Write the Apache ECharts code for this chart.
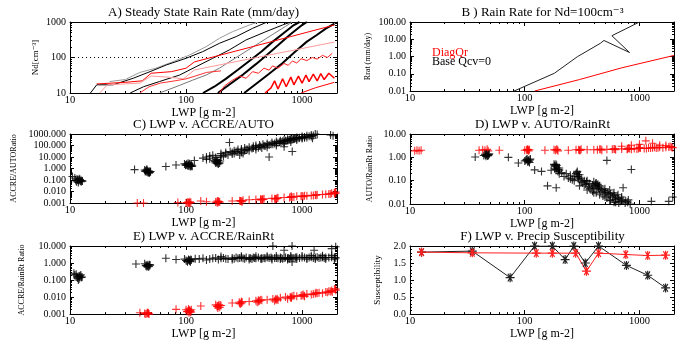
<!DOCTYPE html>
<html><head><meta charset="utf-8">
<script src="https://cdn.jsdelivr.net/npm/echarts@6/dist/echarts.min.js"></script>
<style>html,body{margin:0;padding:0;background:#fff}#c{width:677px;height:341px}</style>
</head><body><div id="c"></div>
<script>
// ---------- Panel A: contour lines [LWP, Nd] ----------
const aGray1  = [[22,21],[30,24],[40,38],[55,50],[77,76],[107,117],[149,202],[194,347],[252,535],[351,822],[420,1000]];
const aBlack2 = [[15,10],[17,17],[23.5,17],[35,26],[49,40],[68,62],[100,95],[139,146],[194,251],[270,387],[375,663],[500,1000]];
const aBlack3 = [[33,10],[43,15],[59,21],[88,32],[122,55],[170,95],[236,163],[328,311],[488,535],[678,822],[800,1000]];
const aGray4  = [[59,10],[82,15],[114,23],[149,32],[194,50],[250,85],[330,150],[430,260],[560,450],[720,750],[820,1000]];
const aBlack5 = [[140,10],[175,15],[220,25],[280,45],[360,85],[450,150],[560,280],[700,500],[850,820],[950,1000]];
const aBlack6 = [[188,10],[240,18],[310,33],[400,65],[500,120],[620,220],[800,460],[1000,820],[1100,1000]];
const aBlack7 = [[317,10],[400,18],[520,35],[680,70],[880,150],[1100,280],[1340,430],[1600,650],[1900,900]];
const aRed1   = [[17,18],[30,20],[42,22],[50,36],[75,40],[100,50],[118,75],[200,118],[400,214],[800,389],[1900,822]];
const aPink2  = [[18,10],[21,17],[40,19],[50,30],[70,28],[95,25],[118,44.5],[200,63],[400,99],[800,155],[1900,272]];
const aRed3   = [[194,10],[215,16],[252,23],[290,30],[330,26],[375,40],[420,36],[470,50],[520,44],[556,58],[620,50],[700,68],[760,60],[826,80],[900,70],[980,92],[1100,82],[1226,100],[1350,90],[1500,115],[1650,100],[1820,131]];
const aRed4   = [[480,10],[540,14],[580,22],[620,13],[680,25],[730,15],[800,28],[850,17],[930,30],[1000,19],[1080,32],[1150,21],[1250,34],[1350,22],[1450,35],[1550,24],[1700,36],[1900,26]];
const aRed5   = [[980,10],[1300,14],[1900,20]];
const aRed6   = [[40,10],[48,15],[60,19],[80,22],[100,25],[120,30],[150,38],[200,42]];
const aRef    = [[10,100],[2000,100]];

// ---------- Panel B: rain rate at Nd=100 [LWP, mm/day] ----------
const bBase = [[75,0.008],[181,0.106],[288,0.98],[456,5.8],[490,8.5],[820,1.7],[575,16],[1000,100]];
const bDiag = [[122,0.01],[300,0.046],[700,0.22],[2000,1.15]];

// ---------- Panel C: ACCRE/AUTO [LWP, ratio] ----------
const cBase = [[10.5,0.2],[11,0.15],[11.2,0.09],[11.5,0.12],[11.8,0.06],[12,0.1],[12,0.13],[12.3,0.08],[12.5,0.07],
  [11.4,0.07],[11.9,0.09],[12.2,0.11],[12.6,0.09],[12.8,0.08],[11.6,0.1],
  [36,0.8],[44,0.75],[45,0.6],[46,0.5],[46,0.85],[47,0.45],[48,0.6],[48,0.4],[49,0.5],
  [44.5,0.55],[45.5,0.7],[46.5,0.65],[47.5,0.5],[48.5,0.45],[49.5,0.55],
  [67,1.5],[82,2.0],[97,2.5],[100,2.0],[103,1.8],[104,2.8],[106,2.2],[108,1.6],[110,1.5],[112,1.7],[118,5],
  [99,1.9],[101,2.4],[105,1.7],[107,2.6],[109,1.9],[111,2.1],[113,1.6],
  [140,8],[150,10],[160,12],[170,14],[175,5],[180,3],[182,6],[185,4],[190,2.5],[195,3],[200,20],[220,25],[240,30],[260,35],[280,45],
  [178,4],[183,3.5],[188,5],[192,3],[197,4.5],[186,2.8],
  [300,50],[320,60],[350,70],[380,85],[400,100],[430,110],[460,130],[500,150],[550,180],[600,220],[650,260],[700,300],[750,350],
  [800,400],[850,450],[900,500],[1000,600],[1100,700],[1200,800],[1300,1000],
  [150,6],[200,10],[250,18],[290,15],[300,25],[310,20],[350,35],[400,45],[450,60],[500,70],[600,100],[700,150],[800,200],[900,300],[1000,400],[1100,500],
  [160,7],[180,9],[210,12],[230,15],[260,20],[280,28],[320,35],[340,45],[370,55],[420,65],[440,80],[480,90],[520,110],[560,130],[580,150],
  [620,170],[660,200],[680,230],[720,260],[760,280],[780,320],[820,340],[860,380],[880,420],[950,480],[1050,550],[1150,650],[1250,750],[1350,900],
  [1200,600],[1000,500],[900,400],[800,300],[700,200],[600,150],[500,110],[400,70],[300,35],[250,25],[200,14],[220,18],[270,30],[330,45],
  [380,60],[470,95],[540,130],[640,190],[740,250],[840,350],[940,420],[1050,480],
  [237,180],[520,10],[823,30],[700,77],[1230,430],[1760,820],[1850,700]];
const cDiag = [[38,0.001],[43,0.001],[85,0.0011],[100,0.001],[104,0.0012],[107,0.001],[110,0.0011],[134,0.0015],[150,0.0013],[180,0.0012],[185,0.0011],[190,0.0014],[195,0.0012],
  [250,0.0015],[290,0.0016],[300,0.0014],[310,0.0017],[350,0.0019],[400,0.002],[440,0.0022],[450,0.0019],[470,0.0023],[550,0.0025],[600,0.0024],[620,0.0028],
  [700,0.003],[800,0.0035],[850,0.0033],[900,0.0038],[1000,0.004],[1100,0.0042],[1200,0.0046],[1300,0.005],[1500,0.0055],[1700,0.006],[1900,0.0065],[1950,0.009],
  [102,0.0011],[105,0.001],[108,0.0013],[188,0.0011],[192,0.0013],[186,0.0015],[295,0.0015],[305,0.0013],[440,0.0018],[455,0.0021],[460,0.002],
  [580,0.0024],[610,0.0026],[590,0.0022],[780,0.003],[820,0.0032],[810,0.0036],[980,0.0038],[1020,0.0036],[1050,0.0042],[1250,0.0045],[1320,0.0048],
  [1350,0.0052],[1600,0.0058],[1750,0.0062],[1800,0.007],[1950,0.007],[1900,0.008]];

// ---------- Panel D: AUTO/RainRt [LWP, ratio] ----------
const dBase = [[37,1.03],[44,1.2],[45,1.35],[46,1.1],[47,1.3],[48,1.2],[49,1.4],[72,1.0],[88,0.57],[100,0.7],[104,0.8],[106,0.65],[108,0.75],[110,0.6],[112,0.85],
  [45.5,1.25],[46.5,1.35],[47.5,1.15],[48.5,1.3],[102,0.75],[105,0.85],[107,0.7],[109,0.65],[111,0.78],
  [122,0.29],[140,0.25],[158,0.06],[170,0.28],[180,0.5],[185,0.4],[188,0.3],[190,0.45],[195,0.25],[200,0.35],[188,0.05],[200,0.2],[220,0.15],[240,0.13],[260,0.11],
  [182,0.45],[187,0.5],[192,0.35],[197,0.3],[183,0.32],
  [280,0.2],[287,0.25],[290,0.15],[295,0.12],[300,0.18],[320,0.08],[340,0.07],[360,0.055],[380,0.05],[400,0.045],[420,0.08],[427,0.065],[440,0.05],[460,0.035],
  [500,0.03],[540,0.025],[580,0.02],[620,0.016],[680,0.013],[750,0.011],[830,0.01],
  [300,0.06],[350,0.04],[400,0.03],[450,0.025],[500,0.02],[550,0.015],[600,0.012],
  [350,0.1],[400,0.09],[450,0.06],[500,0.045],[550,0.04],[600,0.03],[650,0.025],[700,0.02],[800,0.015],
  [200,0.28],[210,0.22],[230,0.2],[250,0.17],[270,0.15],[285,0.22],[292,0.18],[298,0.14],[310,0.12],[330,0.1],[345,0.09],[365,0.075],[390,0.065],
  [410,0.06],[430,0.055],[415,0.075],[435,0.07],[445,0.045],[470,0.042],[490,0.038],[510,0.033],[530,0.03],[560,0.027],[590,0.024],[610,0.022],
  [640,0.019],[660,0.017],[700,0.016],[720,0.014],[760,0.013],[790,0.012],[250,0.12],[270,0.1],[310,0.09],[330,0.065],[370,0.045],[390,0.035],
  [420,0.03],[480,0.022],[520,0.018],[560,0.014],[620,0.012],[660,0.011],
  [520,0.74],[850,0.3],[720,0.05],[1270,0.013],[1800,0.013],[1950,0.02]];
const dDiag = [[11,1.9],[11.5,2],[12,1.9],[12.5,2],[40,2],[43,2.1],[45,2.0],[47,2.2],[48,1.9],[60,2],[100,2],[104,2.1],[106,2.2],[108,1.9],[110,2.1],
  [150,2.0],[180,2.1],[190,2.2],[195,1.9],[240,2.0],[280,2.1],[300,2.0],[310,2.2],[350,2.1],[400,2.1],[450,2.2],[470,2.0],[520,2.2],[600,2.3],[620,2.1],
  [700,2.3],[780,2.2],[800,2.5],[850,2.2],[900,2.4],[950,2.3],[1000,2.6],[1100,2.4],[1200,2.5],[1300,2.6],[1400,2.5],[1500,2.7],[1600,2.6],[1800,2.8],[1900,2.7],
  [105,2.0],[107,2.1],[185,2.0],[192,2.1],[295,2.1],[305,2.0],[430,2.1],[460,2.2],[580,2.2],[610,2.3],[790,2.3],[820,2.4],[980,2.4],[1020,2.5],
  [1250,2.5],[1350,2.7],[1700,2.7],[1850,2.9],[1950,2.6],[1450,2.6],[1150,2.4],
  [700,3.0],[850,3.3],[1000,3.6],[1136,5.1],[1300,4.0],[1500,3.3],[1700,3.2]];

// ---------- Panel E: ACCRE/RainRt [LWP, ratio] ----------
const eBase = [[10.8,0.25],[11,0.2],[11.3,0.22],[11.5,0.15],[11.8,0.1],[12,0.12],[12.2,0.18],[12.5,0.14],
  [11.6,0.13],[12.1,0.16],[12.4,0.2],[12.7,0.15],[11.9,0.17],
  [37,0.87],[44,0.9],[45,0.7],[46,0.6],[47,0.8],[48,0.65],[49,0.75],[45.5,0.75],[46.5,0.7],[47.5,0.6],[48.5,0.8],
  [67,1.9],[82,1.6],[97,1.7],[100,1.4],[103,1.2],[106,1.5],[108,1.3],[110,1.6],[102,1.3],[105,1.6],[107,1.4],[109,1.2],[111,1.5],
  [120,1.8],[140,1.9],[160,1.7],[180,2.0],[190,1.6],[200,1.9],[220,1.8],[250,2.0],[280,1.9],[300,2.1],[320,1.8],[350,2.0],[380,2.1],[400,1.9],
  [450,2.0],[500,2.1],[550,1.9],[600,2.0],[650,2.1],[700,2.0],[750,1.9],[800,2.1],[850,2.0],[900,2.2],[1000,2.1],[1100,2.0],[1200,2.2],[1300,2.1],
  [1400,2.0],[1500,2.2],[1600,2.1],[1800,2.2],[1950,2.0],
  [130,1.7],[170,1.9],[210,2.0],[230,1.7],[260,1.8],[270,2.1],[290,2.0],[310,1.9],[330,2.1],[360,1.9],[370,1.7],[390,2.0],[420,2.1],[440,1.8],
  [470,2.0],[480,1.9],[520,2.0],[540,2.1],[580,2.0],[620,1.9],[660,2.0],[680,1.8],[720,2.1],[760,2.0],[780,1.8],[820,2.0],[880,2.1],[950,2.0],
  [1050,2.1],[1150,2.1],[1250,2.0],[1350,2.2],[1450,2.1],[1550,2.0],[1700,2.1],[1900,2.2],
  [150,1.5],[250,1.6],[350,1.6],[450,1.7],[550,1.6],[650,1.7],[750,1.6],[900,1.7],[1100,1.7],[1300,1.7],[1600,1.7],[1900,1.7],
  [200,2.4],[300,2.5],[400,2.5],[500,2.5],[600,2.6],[800,2.6],[1000,2.6],[1200,2.7],[1500,2.7],[1800,2.8],
  [560,10],[700,5.6],[820,10],[1270,5.6],[1800,7],[820,1.14],[1950,9]];
const eDiag = [[40,0.0012],[44,0.0011],[45,0.001],[47,0.0012],[48,0.001],[82,0.0019],[100,0.0018],[104,0.0015],[106,0.0012],[108,0.0016],[110,0.0013],
  [134,0.003],[180,0.0035],[185,0.0028],[190,0.003],[195,0.0025],[200,0.0032],[250,0.0045],[287,0.005],[295,0.004],[300,0.0045],[350,0.0055],[400,0.006],
  [410,0.005],[420,0.0055],[450,0.0065],[500,0.007],[560,0.0076],[580,0.006],[600,0.007],[650,0.009],[720,0.01],[750,0.008],[800,0.009],[850,0.012],
  [900,0.011],[1000,0.013],[1050,0.011],[1100,0.015],[1200,0.014],[1300,0.016],[1400,0.018],[1500,0.017],[1600,0.02],[1700,0.022],[1820,0.02],[1900,0.03],[1950,0.025],
  [46,0.0011],[46.5,0.0012],[47.5,0.0011],[102,0.0014],[105,0.002],[107,0.0017],[109,0.0014],[111,0.0018],[186,0.003],[192,0.0035],[188,0.0023],
  [197,0.0033],[290,0.0042],[300,0.0055],[305,0.005],[420,0.0065],[430,0.006],[440,0.007],[590,0.0075],[610,0.008],[620,0.0068],[790,0.01],
  [820,0.011],[810,0.009],[980,0.012],[1020,0.014],[1040,0.012],[1250,0.015],[1320,0.018],[1350,0.017],[1650,0.019],[1750,0.021],[1800,0.024],[1950,0.03]];

// ---------- Panel F: precip susceptibility [LWP, S] ----------
const fBase = [[12.6,1.82],[34.9,1.85],[74.6,1.07],[122,2.0],[174,2.0],[225,1.6],[268,2.0],[337,1.5],[440,2.0],[770,1.43],[1180,1.14],[1690,0.77]];
const fDiag = [[12.6,1.82],[34.9,1.80],[126,1.79],[174,1.79],[278,1.79],[345,1.26],[440,1.79],[760,1.75],[1180,1.72],[1690,1.73]];

// ---------- labels ----------
const titles = ['A) Steady State Rain Rate (mm/day)','B ) Rain Rate for Nd=100cm\u207B\u00B3','C) LWP v. ACCRE/AUTO','D) LWP v. AUTO/RainRt','E) LWP v. ACCRE/RainRt','F) LWP v. Precip Susceptibility'];
const yNames = ['Nd[cm\u207B\u00B3]','Rrat (mm/day)','ACCRE/AUTORatio','AUTO/RainRt Ratio','ACCRE/RainRt Ratio','Susceptibility'];
const xName = 'LWP [g m-2]';
const legendB = ['DiagQr','Base Qcv=0'];

const FONT = '"Liberation Serif","DejaVu Serif",serif';
const PLUS = 'path://M-1,-0.14H-0.14V-1H0.14V-0.14H1V0.14H0.14V1H-0.14V0.14H-1Z';
const STAR = 'path://M-1,-0.13L1,-0.13L1,0.13L-1,0.13Z M-0.39,-0.93L0.61,0.8L0.39,0.93L-0.61,-0.8Z M0.61,-0.8L-0.39,0.93L-0.61,0.8L0.39,-0.93Z M-0.13,-1L0.13,-1L0.13,1L-0.13,1Z';

function isPow(v){const l=Math.log10(v);return Math.abs(l-Math.round(l))<1e-6;}
const fmtInt = v => isPow(v) ? String(Math.round(v)) : '';
const fmtN = n => v => isPow(v) ? v.toFixed(n) : '';

const panels = [
  {left:70, top:22, width:267, height:71, ylog:true, ymin:10, ymax:1000, fmt:fmtInt, gap:30, nfs:9},
  {left:410,top:22, width:265, height:69, ylog:true, ymin:0.01, ymax:100, fmt:fmtN(2), gap:38, nfs:8},
  {left:70, top:134,width:267, height:69, ylog:true, ymin:0.001, ymax:1000, fmt:fmtN(3), gap:52, nfs:8},
  {left:410,top:134,width:265, height:70, ylog:true, ymin:0.01, ymax:10, fmt:fmtN(2), gap:36, nfs:8},
  {left:70, top:246,width:267, height:70, ylog:true, ymin:0.001, ymax:10, fmt:fmtN(3), gap:44, nfs:8},
  {left:410,top:246,width:265, height:70, ylog:false, ymin:0, ymax:2, fmt:v=>v.toFixed(1), gap:28, nfs:9}
];

const grid=[], xAxis=[], yAxis=[], graphic=[];
const lineC = {color:'#000', width:1};
panels.forEach((p,i)=>{
  grid.push({left:p.left, top:p.top, width:p.width, height:p.height, show:false});
  const tick = {show:true, inside:true, length:4, lineStyle:lineC};
  const xbase = {gridIndex:i, type:'log', logBase:10, min:10, max:2000, interval:1,
    axisLine:{show:true, onZero:false, lineStyle:lineC}, axisTick:tick,
    minorTick:{show:true, splitNumber:9, length:2, lineStyle:lineC}, splitLine:{show:false}, minorSplitLine:{show:false}};
  xAxis.push(Object.assign({}, xbase, {position:'bottom',
    axisLabel:{show:true, formatter:fmtInt, margin:2, fontFamily:FONT, fontSize:10.5, color:'#000'},
    name:xName, nameLocation:'middle', nameGap:10, nameTextStyle:{fontFamily:FONT, fontSize:12, color:'#000'}}));
  xAxis.push(Object.assign({}, xbase, {position:'top', axisLabel:{show:false}}));
  const ybase = p.ylog ?
    {gridIndex:i, type:'log', logBase:10, min:p.ymin, max:p.ymax, interval:1} :
    {gridIndex:i, type:'value', min:p.ymin, max:p.ymax, interval:0.5};
  Object.assign(ybase, {axisLine:{show:true, onZero:false, lineStyle:lineC}, axisTick:tick,
    minorTick:{show:true, splitNumber:p.ylog?9:5, length:2, lineStyle:lineC}, splitLine:{show:false}, minorSplitLine:{show:false}});
  yAxis.push(Object.assign({}, ybase, {position:'left',
    axisLabel:{show:true, formatter:p.fmt, margin:4, fontFamily:FONT, fontSize:10, color:'#000'},
    name:yNames[i], nameLocation:'middle', nameRotate:90, nameGap:p.gap, nameTextStyle:{fontFamily:FONT, fontSize:p.nfs, color:'#000'}}));
  yAxis.push(Object.assign({}, ybase, {position:'right', axisLabel:{show:false}}));
  graphic.push({type:'text', x:p.left+p.width/2, y:p.top-9,
    style:{text:titles[i], fill:'#000', font:'13px '+FONT, textAlign:'center', textVerticalAlign:'middle'}});
});
graphic.push({type:'text', x:432, y:53, style:{text:legendB[0], fill:'#ff0000', font:'12px '+FONT, textVerticalAlign:'middle'}});
graphic.push({type:'text', x:432, y:62, style:{text:legendB[1], fill:'#000', font:'12px '+FONT, textVerticalAlign:'middle'}});

const series=[];
function ln(i, data, color, width, type){
  series.push({type:'line', xAxisIndex:2*i, yAxisIndex:2*i, data, showSymbol:false, symbol:'none', silent:true, animation:false,
    lineStyle:{color, width, type:type||'solid'}});
}
function sc(i, data, color){
  series.push({type:'scatter', xAxisIndex:2*i, yAxisIndex:2*i, data, symbol:PLUS, symbolSize:8, silent:true, animation:false,
    itemStyle:{color}});
}
function lm(i, data, color){
  series.push({type:'line', xAxisIndex:2*i, yAxisIndex:2*i, data, symbol:STAR, symbolSize:9, showSymbol:true, silent:true, animation:false,
    lineStyle:{color, width:1}, itemStyle:{color}});
}
// A
ln(0, aRef, '#000', 1, [1,3]);
ln(0, aGray1, '#9a9a9a', 1);
ln(0, aBlack2, '#000', 1);
ln(0, aBlack3, '#000', 1);
ln(0, aGray4, '#777', 1);
ln(0, aBlack5, '#000', 2);
ln(0, aBlack6, '#000', 2);
ln(0, aBlack7, '#000', 2);
ln(0, aRed1, '#ff0000', 1);
ln(0, aPink2, '#ff9a9a', 1);
ln(0, aRed3, '#ff2020', 1);
ln(0, aRed4, '#ff0000', 1.5);
ln(0, aRed5, '#ff0000', 1);
ln(0, aRed6, '#ff3030', 1);
// B
ln(1, bBase, '#222', 1);
ln(1, bDiag, '#ff0000', 1);
// C, D, E
sc(2, cBase, '#000'); sc(2, cDiag, '#ff0000');
sc(3, dDiag, '#ff0000'); sc(3, dBase, '#000');
sc(4, eBase, '#000'); sc(4, eDiag, '#ff0000');
// F
lm(5, fBase, '#222'); lm(5, fDiag, '#ff2020');

const chart = echarts.init(document.getElementById('c'), null, {renderer:'canvas'});
chart.setOption({animation:false, backgroundColor:'#fff', grid, xAxis, yAxis, series, graphic});
</script></body></html>
